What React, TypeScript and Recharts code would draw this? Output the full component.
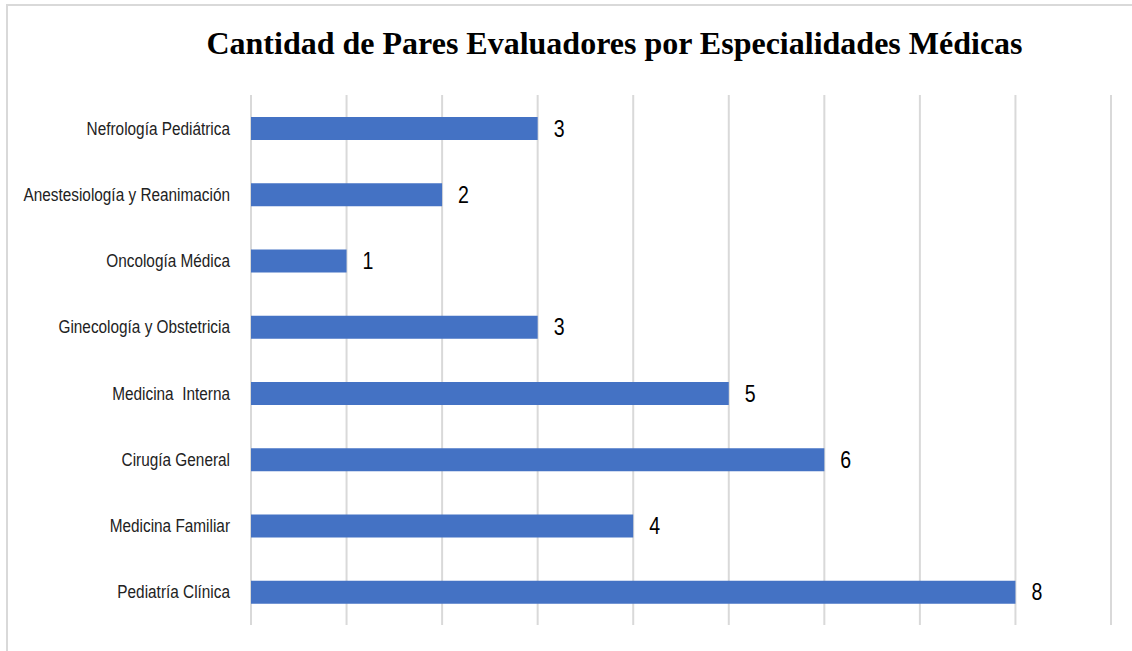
import React from "react";
import { BarChart, Bar, XAxis, YAxis, CartesianGrid, LabelList } from "recharts";

const categories = [
  "Nefrología Pediátrica",
  "Anestesiología y Reanimación",
  "Oncología Médica",
  "Ginecología y Obstetricia",
  "Medicina  Interna",
  "Cirugía General",
  "Medicina Familiar",
  "Pediatría Clínica",
];
const values = [3, 2, 1, 3, 5, 6, 4, 8];
const xTicks = [0, 1, 2, 3, 4, 5, 6, 7, 8, 9];
const title = "Cantidad de Pares Evaluadores por Especialidades Médicas";

const data = categories.map((name, i) => ({ name, value: values[i] }));

const SANS = "'Liberation Sans', Arial, sans-serif";

const CatTick = (props: any) => {
  const { x, y, payload } = props;
  return (
    <text
      transform={`translate(${x},${y}) scale(0.83,1)`}
      x={0}
      y={0}
      dy={6.5}
      textAnchor="end"
      fontFamily={SANS}
      fontSize={18.5}
      fill="#222"
      style={{ whiteSpace: "pre" }}
    >
      {payload.value}
    </text>
  );
};

const ValueLabel = (props: any) => {
  const { x, y, width, height, value } = props;
  const lx = Number(x) + Number(width) + 16;
  const ly = Number(y) + Number(height) / 2;
  return (
    <text transform={`translate(${lx},${ly}) scale(0.85,1)`} x={0} y={0} dy={8} textAnchor="start" fontFamily={SANS} fontSize={23} fill="#000">
      {value}
    </text>
  );
};

const EmptyTick = () => <g />;

export default function App() {
  return (
    <div style={{ position: "fixed", left: 0, top: 0, width: 1132, height: 651, background: "#fff", overflow: "hidden" }}>
      <div style={{ position: "absolute", left: 6, top: 4, width: 1140, height: 660, border: "2px solid #d9d9d9", boxSizing: "border-box" }} />
      <div style={{ position: "absolute", left: 0, top: 23, width: 1229, textAlign: "center", fontFamily: "'Liberation Serif', 'Times New Roman', serif", fontWeight: "bold", fontSize: 32, color: "#000", lineHeight: "40px", whiteSpace: "nowrap" }}>
        {title}
      </div>
      <div style={{ position: "absolute", left: 0, top: 0 }}>
        <BarChart width={1132} height={651} layout="vertical" data={data} margin={{ top: 95, right: 21, bottom: 26, left: 11 }} barCategoryGap={0}>
          <CartesianGrid horizontal={false} vertical={true} stroke="#d9d9d9" strokeWidth={2} />
          <XAxis type="number" domain={[0, 9]} ticks={xTicks} tick={<EmptyTick />} axisLine={false} tickLine={false} height={0} />
          <YAxis type="category" dataKey="name" width={240} axisLine={false} tickLine={false} tick={<CatTick />} tickSize={0} tickMargin={21} interval={0} />
          <Bar dataKey="value" fill="#4472C4" barSize={23} isAnimationActive={false}>
            <LabelList dataKey="value" content={<ValueLabel />} />
          </Bar>
        </BarChart>
      </div>
    </div>
  );
}
